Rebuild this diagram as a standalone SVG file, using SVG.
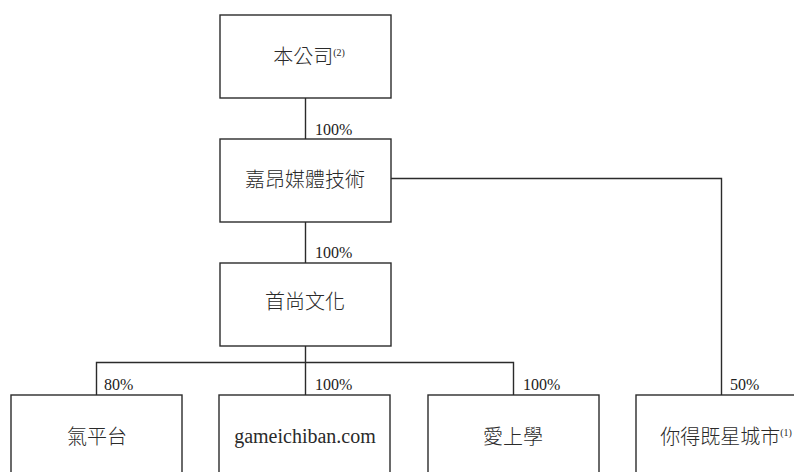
<svg xmlns="http://www.w3.org/2000/svg" width="794" height="472" viewBox="0 0 794 472">
<style>
.box{fill:#fff;stroke:#2b2b2b;stroke-width:1.4}
.ln{fill:none;stroke:#2b2b2b;stroke-width:1.4}
.t{font-family:"Liberation Serif","Noto Sans CJK TC",serif;font-size:20px;font-weight:300;fill:#2a2a2a;text-anchor:middle}
.p{font-family:"Liberation Serif",serif;font-size:16px;fill:#222}
.s{font-size:10px}
</style>
<rect width="794" height="472" fill="#fff"/>
<g id="connectors">
<path class="ln" d="M305.5 98 V139"/>
<path class="ln" d="M305.5 222 V263"/>
<path class="ln" d="M305.5 346 V395 M96.5 395 V362.5 H513.5 V395"/>
<path class="ln" d="M391 178.5 H721.5 V395"/>
<text class="p" x="315" y="135">100%</text>
<text class="p" x="315" y="258">100%</text>
<text class="p" x="104" y="390">80%</text>
<text class="p" x="315" y="390">100%</text>
<text class="p" x="523" y="390">100%</text>
<text class="p" x="730" y="390">50%</text>
</g>
<g id="n1"><rect class="box" x="220" y="15" width="171" height="83"/><text class="t" x="309" y="64">本公司<tspan class="s" dy="-8">(2)</tspan></text></g>
<g id="n2"><rect class="box" x="220" y="139" width="171" height="83"/><text class="t" x="305" y="187">嘉昂媒體技術</text></g>
<g id="n3"><rect class="box" x="220" y="263" width="171" height="83"/><text class="t" x="305" y="309">首尚文化</text></g>
<g id="n4"><rect class="box" x="11" y="395" width="171" height="90"/><text class="t" x="97" y="444">氣平台</text></g>
<g id="n5"><rect class="box" x="219" y="395" width="171" height="90"/><text class="t" x="305" y="443">gameichiban.com</text></g>
<g id="n6"><rect class="box" x="428" y="395" width="171" height="90"/><text class="t" x="513" y="444">愛上學</text></g>
<g id="n7"><rect class="box" x="636" y="395" width="171" height="90"/><text class="t" x="726" y="444">你得既星城市<tspan class="s" dy="-8">(1)</tspan></text></g>
</svg>
